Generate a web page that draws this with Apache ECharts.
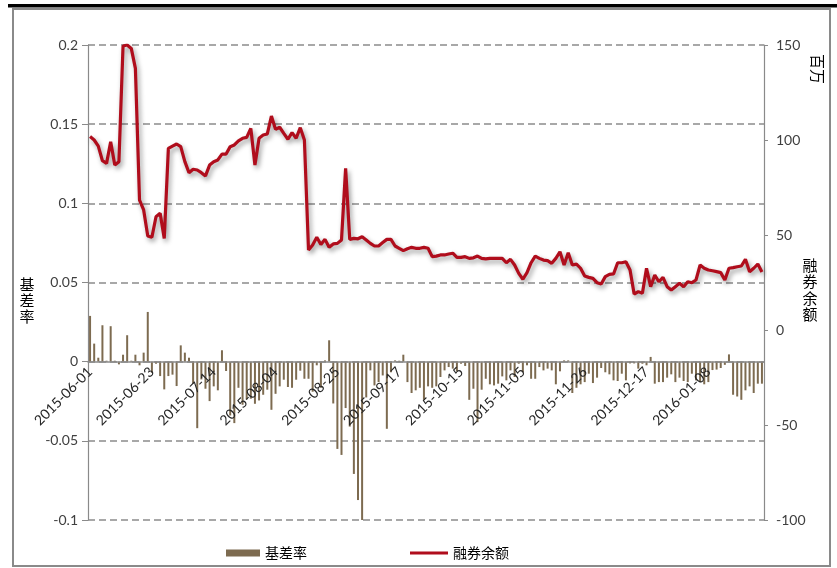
<!DOCTYPE html>
<html><head><meta charset="utf-8">
<script src="https://cdn.jsdelivr.net/npm/echarts@6/dist/echarts.min.js"></script>
<style>html,body{margin:0;padding:0;background:#fff}#c{width:837px;height:568px}</style>
</head><body><div id="c"></div>
<script>
const dates = [
'2015-06-01','2015-06-02','2015-06-03','2015-06-04','2015-06-05','2015-06-08','2015-06-09','2015-06-10','2015-06-11','2015-06-12',
'2015-06-15','2015-06-16','2015-06-17','2015-06-18','2015-06-19','2015-06-23','2015-06-24','2015-06-25','2015-06-26','2015-06-29',
'2015-06-30','2015-07-01','2015-07-02','2015-07-03','2015-07-06','2015-07-07','2015-07-08','2015-07-09','2015-07-10','2015-07-13',
'2015-07-14','2015-07-15','2015-07-16','2015-07-17','2015-07-20','2015-07-21','2015-07-22','2015-07-23','2015-07-24','2015-07-27',
'2015-07-28','2015-07-29','2015-07-30','2015-07-31','2015-08-03','2015-08-04','2015-08-05','2015-08-06','2015-08-07','2015-08-10',
'2015-08-11','2015-08-12','2015-08-13','2015-08-14','2015-08-17','2015-08-18','2015-08-19','2015-08-20','2015-08-21','2015-08-24',
'2015-08-25','2015-08-26','2015-08-27','2015-08-28','2015-08-31','2015-09-01','2015-09-02','2015-09-07','2015-09-08','2015-09-09',
'2015-09-10','2015-09-11','2015-09-14','2015-09-15','2015-09-16','2015-09-17','2015-09-18','2015-09-21','2015-09-22','2015-09-23',
'2015-09-24','2015-09-25','2015-09-28','2015-09-29','2015-09-30','2015-10-08','2015-10-09','2015-10-12','2015-10-13','2015-10-14',
'2015-10-15','2015-10-16','2015-10-19','2015-10-20','2015-10-21','2015-10-22','2015-10-23','2015-10-26','2015-10-27','2015-10-28',
'2015-10-29','2015-10-30','2015-11-02','2015-11-03','2015-11-04','2015-11-05','2015-11-06','2015-11-09','2015-11-10','2015-11-11',
'2015-11-12','2015-11-13','2015-11-16','2015-11-17','2015-11-18','2015-11-19','2015-11-20','2015-11-23','2015-11-24','2015-11-25',
'2015-11-26','2015-11-27','2015-11-30','2015-12-01','2015-12-02','2015-12-03','2015-12-04','2015-12-07','2015-12-08','2015-12-09',
'2015-12-10','2015-12-11','2015-12-14','2015-12-15','2015-12-16','2015-12-17','2015-12-18','2015-12-21','2015-12-22','2015-12-23',
'2015-12-24','2015-12-25','2015-12-28','2015-12-29','2015-12-30','2015-12-31','2016-01-04','2016-01-05','2016-01-06','2016-01-07',
'2016-01-08','2016-01-11','2016-01-12','2016-01-13','2016-01-14','2016-01-15','2016-01-18','2016-01-19','2016-01-20','2016-01-21',
'2016-01-22','2016-01-25','2016-01-26','2016-01-27'];

const basisRate = [
0.0289,0.0114,0.0025,0.023,0.0006,0.0224,0.0006,-0.0017,0.0044,0.0167,
0.0006,0.0044,-0.0023,0.0057,0.0314,-0.007,-0.0013,-0.0091,-0.0175,-0.0091,
-0.0082,-0.0154,0.0103,0.0057,0.0025,-0.0139,-0.042,-0.0112,-0.0171,-0.0249,
-0.0156,-0.0181,0.0072,-0.0059,-0.034,-0.0388,-0.0165,-0.0272,-0.0238,-0.0234,
-0.0266,-0.0245,-0.0209,-0.0177,-0.0304,-0.0203,-0.0156,-0.0114,-0.016,-0.0165,
-0.0114,-0.0057,-0.0108,-0.0108,-0.019,-0.0023,-0.0165,0.0008,0.0135,-0.0264,
-0.0551,-0.0589,-0.0293,-0.041,-0.0709,-0.0874,-0.1,-0.0226,-0.0055,-0.015,
-0.0129,-0.0087,-0.0424,-0.0067,0.0008,0.0006,0.0044,-0.0129,-0.0198,-0.0181,
-0.0165,-0.0241,-0.0156,-0.0165,-0.0156,-0.0097,-0.0055,-0.0034,-0.0044,-0.0061,
-0.0013,-0.0027,-0.0241,-0.0171,-0.0382,-0.0177,-0.0108,-0.0143,-0.015,-0.0139,
-0.0093,-0.0118,-0.0055,-0.0097,-0.0013,-0.0067,-0.0023,-0.0108,-0.0108,-0.0034,
-0.0055,-0.0044,-0.0055,-0.0143,-0.0061,0.0008,0.0008,-0.0198,-0.0165,-0.0143,
-0.0129,-0.0076,-0.0135,-0.0101,-0.004,-0.0067,-0.008,-0.0118,-0.0122,-0.0076,
-0.0118,-0.0011,-0.0011,-0.0044,-0.0013,-0.0023,0.003,-0.0139,-0.0129,-0.0129,
-0.0101,-0.008,-0.0129,-0.0101,-0.0122,-0.0129,-0.0076,-0.0118,-0.0129,-0.0143,
-0.0129,-0.0053,-0.005,-0.004,-0.002,0.0046,-0.0209,-0.022,-0.0241,-0.0181,
-0.0156,-0.0198,-0.0139,-0.0139];

const shortBalance = [
101.8,100,96.8,89.1,87.7,99.1,86.8,88.6,149.5,150,
148.2,137.7,68.4,63.2,49.5,48.8,59.6,61.4,48.2,95.6,
96.8,97.9,96.5,88.6,82.8,84.6,84.2,82.8,81.1,86.8,
88.6,89.5,92.6,92.6,96.5,97.4,99.6,100.9,101.4,106.1,
86.8,100.9,102.6,103.2,112.6,105.6,106.7,103.5,100.4,103.9,
100.9,106.5,100,42.1,44.7,48.8,45,47.7,43.5,45.3,
45.6,47.4,85.1,47.7,48.2,48,49.1,47.4,45.6,44.2,
44.2,46,47.7,47.7,44.2,43,41.8,42.8,43.5,43,
43,43.5,43,38.6,38.9,39.5,39.5,40,40.4,38.2,
38.2,38.6,37.7,38,38.9,37.7,37.4,37.7,37.7,37.7,
37.7,35.4,37.2,34.2,29.8,26.7,30.2,35.4,38.9,37.7,
36.8,36.5,35.1,37.7,41.2,34.2,40.7,34.2,34.7,32.5,
28.4,27.7,27.2,24.9,24.2,28.1,29.3,29.5,35.4,35.4,
35.9,31.6,18.9,20.2,19.3,32.5,22.8,28.9,25.4,27.7,
22.8,21,22.8,24.6,22.8,25.4,24.9,26.3,34.2,32.5,
31.6,31.2,30.7,30.2,26.3,32.5,32.8,33.3,33.7,37.2,
30.7,32.5,34.7,30.5];

const leftTicks = {min: -0.1, max: 0.2, interval: 0.05};
const rightTicks = {min: -100, max: 150, interval: 50};
const seriesNames = ['基差率', '融券余额'];

const chart = echarts.init(document.getElementById('c'), null, {renderer: 'canvas'});
const font = 'Lato, "Open Sans", sans-serif';
const cjk = '"Noto Sans CJK SC", sans-serif';
const axisGray = '#8a8a8a';
const gridTop = 45, gridBottom = 48, H = 568;
const plotH = H - gridTop - gridBottom;
const zeroOffset = plotH * (0 - leftTicks.min) / (leftTicks.max - leftTicks.min);
chart.setOption({
  animation: false,
  backgroundColor: '#fff',
  grid: {left: 88, right: 73, top: gridTop, bottom: gridBottom, containLabel: false, outerBoundsMode: 'none'},
  legend: [{
    left: 221, top: 541, itemWidth: 34, itemHeight: 7, icon: 'rect', itemGap: 4,
    textStyle: {fontFamily: cjk, fontSize: 14, color: '#000'},
    data: [seriesNames[0]]
  }, {
    left: 405, top: 541, itemWidth: 38, itemHeight: 3, icon: 'rect',
    textStyle: {fontFamily: cjk, fontSize: 14, color: '#000'},
    data: [seriesNames[1]]
  }],
  xAxis: {
    type: 'category', data: dates, boundaryGap: true, position: 'bottom',
    offset: -zeroOffset, z: 10,
    axisLine: {onZero: false, lineStyle: {color: axisGray, width: 1.5}},
    axisTick: {show: false},
    axisLabel: {interval: 14, rotate: 45, margin: 8, fontFamily: font, fontSize: 14, color: '#262626'},
    splitLine: {show: false}
  },
  yAxis: [{
    type: 'value', min: leftTicks.min, max: leftTicks.max, interval: leftTicks.interval,
    axisLine: {show: true, lineStyle: {color: axisGray, width: 1.2}},
    axisTick: {show: true, length: 6, lineStyle: {color: axisGray}},
    axisLabel: {margin: 10, fontFamily: font, fontSize: 14, color: '#404040'},
    splitLine: {show: true, lineStyle: {color: '#8c8c8c', width: 1.6, type: [7, 4]}}
  }, {
    type: 'value', min: rightTicks.min, max: rightTicks.max, interval: rightTicks.interval,
    axisLine: {show: true, lineStyle: {color: axisGray, width: 1.2}},
    axisTick: {show: true, length: 4, lineStyle: {color: axisGray}},
    axisLabel: {margin: 12, fontFamily: font, fontSize: 14, color: '#404040'},
    splitLine: {show: false}
  }],
  series: [{
    name: seriesNames[0], type: 'bar', data: basisRate, yAxisIndex: 0,
    barWidth: 2, itemStyle: {color: '#7d6b50'}, z: 2
  }, {
    name: seriesNames[1], type: 'line', data: shortBalance, yAxisIndex: 1,
    symbol: 'none', showSymbol: false,
    lineStyle: {color: '#b00d1c', width: 3.2, shadowColor: 'rgba(0,0,0,0.4)', shadowBlur: 5, shadowOffsetX: 2, shadowOffsetY: 3},
    itemStyle: {color: '#b00d1c'}, z: 3
  }],
  graphic: [
    {type: 'rect', shape: {x: 13, y: 9, width: 817, height: 557}, style: {fill: 'none', stroke: '#8a8a8a', lineWidth: 2}, z: 0},
    {type: 'rect', shape: {x: 8, y: 4, width: 829, height: 3.5}, style: {fill: '#000'}, z: 1},
    {type: 'text', x: 27, y: 300, style: {text: '基\n差\n率', font: '15px "Noto Sans CJK SC"', fill: '#000', align: 'center', verticalAlign: 'middle', lineHeight: 16}},
    {type: 'text', x: 810, y: 290, style: {text: '融\n券\n余\n额', font: '15px "Noto Sans CJK SC"', fill: '#000', align: 'center', verticalAlign: 'middle', lineHeight: 16.5}},
    {type: 'text', x: 818, y: 69, rotation: -Math.PI / 2, style: {text: '百万', font: '15px "Noto Sans CJK SC"', fill: '#000', align: 'center', verticalAlign: 'middle'}}
  ]
});
</script></body></html>
